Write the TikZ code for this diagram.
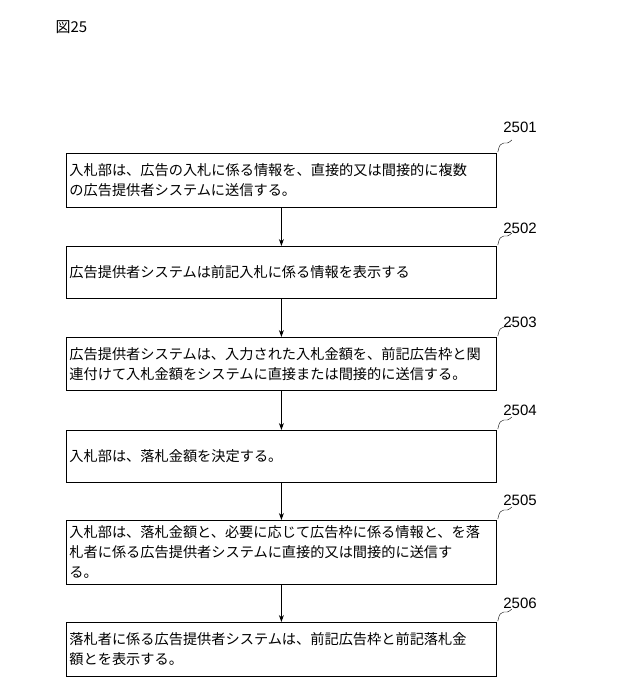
\documentclass[tikz,border=0pt]{standalone}
\usepackage{fontspec}
\newfontfamily\jp{Noto Sans CJK JP}
\usetikzlibrary{arrows.meta}
\begin{document}
\begin{tikzpicture}[x=1pt,y=-1pt,
  box/.style={draw,thick,anchor=north west,minimum width=430pt,text width=424pt,inner xsep=3pt,align=left,font=\jp\fontsize{14.2}{20}\selectfont},
  lbl/.style={font=\fontspec{Liberation Sans}\fontsize{15}{15}\selectfont},
  arr/.style={-{Stealth[length=7pt,width=5pt]},thick},
  sq/.style={thin}]
\useasboundingbox (0,0) rectangle (640,685);
\node[anchor=west,font=\jp\fontsize{15}{15}\selectfont] (t) at (52,27) {図25};
\node[box,minimum height=54pt] (b1) at (66,153) {入札部は、広告の入札に係る情報を、直接的又は間接的に複数\\の広告提供者システムに送信する。};
\node[box,minimum height=52pt] (b2) at (66,246) {広告提供者システムは前記入札に係る情報を表示する};
\node[box,minimum height=53pt] (b3) at (66,337) {広告提供者システムは、入力された入札金額を、前記広告枠と関\\連付けて入札金額をシステムに直接または間接的に送信する。};
\node[box,minimum height=52pt] (b4) at (66,430) {入札部は、落札金額を決定する。};
\node[box,minimum height=64pt] (b5) at (66,520) {入札部は、落札金額と、必要に応じて広告枠に係る情報と、を落\\札者に係る広告提供者システムに直接的又は間接的に送信す\\る。};
\node[box,minimum height=54pt] (b6) at (66,622) {落札者に係る広告提供者システムは、前記広告枠と前記落札金\\額とを表示する。};
\foreach \a/\b in {b1/b2,b2/b3,b3/b4,b4/b5,b5/b6}{\draw[arr] (\a.south) -- (\b.north);}
\foreach \n/\t/\y in {b1/2501/127,b2/2502/228,b3/2503/322,b4/2504/410,b5/2505/500,b6/2506/603}{
  \node[lbl] (l\n) at (520,\y) {\t};
  \draw[sq] (\n.north east) ++(1,-1) .. controls ++(2,-8) and ++(-4,2) .. ++(6,-9) .. controls ++(2,1) and ++(-3,3) .. ++(8,-3);
}
\end{tikzpicture}
\end{document}
